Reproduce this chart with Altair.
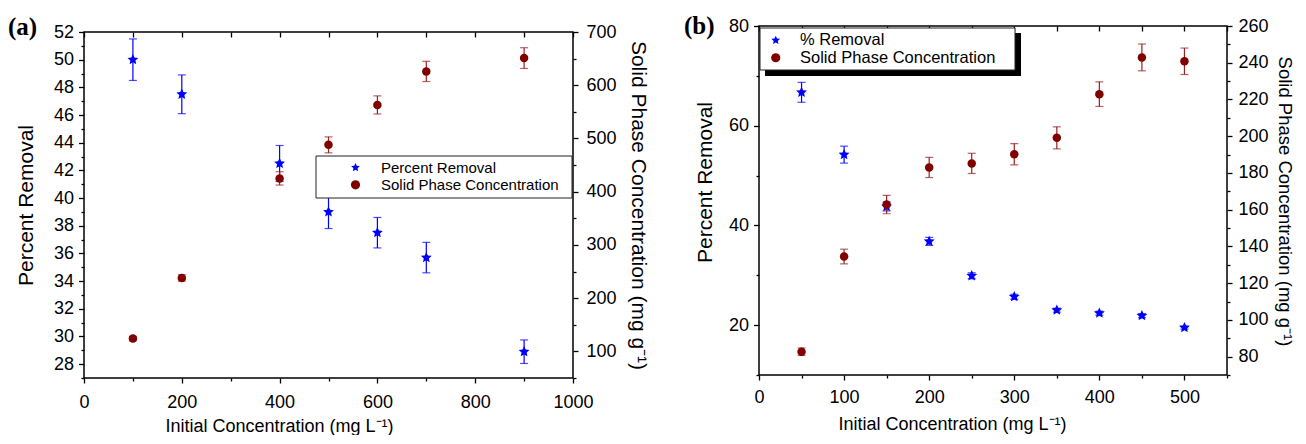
import altair as alt
import pandas as pd

FONT = "Liberation Sans"
BLUE = "#0000ff"
RED = "#800000"
RED_BAR = "#9a2020"
STAR = ("M0,-1 L0.276,-0.380 L0.951,-0.309 L0.447,0.145 L0.588,0.809 "
        "L0,0.47 L-0.588,0.809 L-0.447,0.145 L-0.951,-0.309 L-0.276,-0.380 Z")

# ---------------- Panel (a) data ----------------
a_conc = [100, 200, 400, 500, 600, 700, 900]
a_removal = [50.0, 47.5, 42.5, 39.0, 37.5, 35.7, 28.9]
a_removal_err = [1.5, 1.4, 1.3, 1.2, 1.1, 1.1, 0.85]
a_solid = [124, 238, 425, 488, 563, 626, 651]
a_solid_err = [4, 6, 12.5, 15, 17, 19, 19.5]
a_labels = ["Percent Removal", "Solid Phase Concentration"]

# ---------------- Panel (b) data ----------------
b_conc = [50, 100, 150, 200, 250, 300, 350, 400, 450, 500]
b_removal = [66.7, 54.2, 43.8, 36.8, 29.9, 25.7, 23.0, 22.4, 21.9, 19.5]
b_removal_err = [2.0, 1.7, 0.9, 0.8, 0.6, 0.5, 0.4, 0.4, 0.4, 0.3]
b_solid = [82.7, 134.5, 162.8, 183.0, 185.2, 190.2, 199.1, 222.9, 242.9, 240.8]
b_solid_err = [2.0, 4.0, 5.0, 5.5, 5.5, 5.8, 6.0, 6.7, 7.3, 7.2]
b_labels = ["% Removal", "Solid Phase Concentration"]

X_TITLE = "Initial Concentration (mg L\u207b\u00b9)"
Y2_TITLE = "Solid Phase Concentration (mg g\u207b\u00b9)"


def make_axis(orient, values, test=None, title=None, major=5, minor=3,
              labels=True, offset=None, title_size=21, title_pad=None,
              label_pad=8, title_x=None, title_y=None):
    kw = dict(orient=orient, values=values, domain=False, grid=False,
              labelFlush=False, labelOverlap=False, tickColor="black",
              tickWidth=1.3, labelFont=FONT, labelFontSize=18,
              labelColor="black", labelPadding=label_pad, format="d")
    if test:
        kw["tickSize"] = {"condition": {"test": test, "value": major},
                          "value": minor}
        kw["labelExpr"] = f"({test}) ? datum.label : ''"
    else:
        kw["tickSize"] = major
    if not labels:
        kw["labels"] = False
    if title:
        kw.update(title=title, titleFont=FONT, titleFontSize=title_size,
                  titleFontWeight="normal", titleColor="black")
    else:
        kw["title"] = None
    if offset is not None:
        kw["offset"] = offset
    if title_pad is not None:
        kw["titlePadding"] = title_pad
    if title_x is not None:
        kw["titleX"] = title_x
    if title_y is not None:
        kw["titleY"] = title_y
    return alt.Axis(**kw)


def make_panel(conc, rem, rem_err, sol, sol_err, labels, W, H, top_gap,
               xdom, xvals, xtest, xtopvals, x_lpad, x_tx, x_ty,
               ldom, lvals, ltest, l_ty, l_tpad,
               rdom, rvals, rtest, r_tpad, r_ty, r_lpad, r_fs,
               tag, tag_x, tag_y, box, shadow, leg, right_room):
    df = pd.DataFrame({"x": conc, "r": rem, "re": rem_err,
                       "s": sol, "se": sol_err})
    base = alt.Chart(df).transform_calculate(
        r_lo="datum.r - datum.re", r_hi="datum.r + datum.re",
        s_lo="datum.s - datum.se", s_hi="datum.s + datum.se")

    xs = alt.Scale(domain=xdom, nice=False, zero=False)
    x_bottom = alt.X("x:Q", scale=xs,
                     axis=make_axis("bottom", xvals, xtest, X_TITLE,
                                    title_size=18, label_pad=x_lpad,
                                    title_x=x_tx, title_y=x_ty))
    x_top = alt.X("x:Q", scale=xs,
                  axis=make_axis("top", xtopvals, None, None, major=5,
                                 labels=False, offset=-(5 + top_gap)))

    ls = alt.Scale(domain=ldom, nice=False, zero=False)
    rs = alt.Scale(domain=rdom, nice=False, zero=False)
    lax = make_axis("left", lvals, ltest, "Percent Removal", major=5.5,
                    title_pad=l_tpad, label_pad=5, title_y=l_ty)
    rax = make_axis("right", rvals, rtest, Y2_TITLE, major=5,
                    title_pad=r_tpad, label_pad=r_lpad, title_y=r_ty,
                    title_size=r_fs)

    legend = alt.Legend(orient="none", legendX=leg["x"], legendY=leg["y"],
                        title=None, labelFont=FONT, labelFontSize=leg["fs"],
                        labelColor="black", labelLimit=0, symbolSize=85,
                        symbolStrokeWidth=0, padding=0,
                        rowPadding=leg["rp"], labelOffset=leg["lo"],
                        direction="vertical")
    color = alt.Color("series:N", scale=alt.Scale(domain=labels,
                                                  range=[BLUE, RED]),
                      legend=legend)
    shape = alt.Shape("series:N", scale=alt.Scale(domain=labels,
                                                  range=[STAR, "circle"]),
                      legend=legend)

    left = alt.layer(
        base.mark_rule(color=BLUE, strokeWidth=1.2).encode(
            x=x_bottom, y=alt.Y("r_lo:Q", scale=ls, axis=lax), y2="r_hi:Q"),
        base.mark_tick(color=BLUE, orient="horizontal", size=8,
                       thickness=1.2).encode(
            x=x_bottom, y=alt.Y("r_lo:Q", scale=ls, axis=lax)),
        base.mark_tick(color=BLUE, orient="horizontal", size=8,
                       thickness=1.2).encode(
            x=x_bottom, y=alt.Y("r_hi:Q", scale=ls, axis=lax)),
        base.transform_calculate(series=f"'{labels[0]}'").mark_point(
            filled=True, size=130, opacity=1, strokeWidth=0).encode(
            x=x_bottom, y=alt.Y("r:Q", scale=ls, axis=lax),
            color=color, shape=shape),
    )
    right = alt.layer(
        base.mark_rule(color=RED_BAR, strokeWidth=1.2).encode(
            x=x_top, y=alt.Y("s_lo:Q", scale=rs, axis=rax), y2="s_hi:Q"),
        base.mark_tick(color=RED_BAR, orient="horizontal", size=8,
                       thickness=1.2).encode(
            x=x_top, y=alt.Y("s_lo:Q", scale=rs, axis=rax)),
        base.mark_tick(color=RED_BAR, orient="horizontal", size=8,
                       thickness=1.2).encode(
            x=x_top, y=alt.Y("s_hi:Q", scale=rs, axis=rax)),
        base.transform_calculate(series=f"'{labels[1]}'").mark_point(
            filled=True, size=72, opacity=1, strokeWidth=0).encode(
            x=x_top, y=alt.Y("s:Q", scale=rs, axis=rax),
            color=color, shape=shape),
    )

    one = alt.Chart(pd.DataFrame({"k": [0]}))
    decor = [one.mark_rect(fill="transparent", stroke="black",
                           strokeWidth=1.5).encode(
        x=alt.value(0), x2=alt.value(W),
        y=alt.value(top_gap), y2=alt.value(H))]
    if shadow:
        decor.append(one.mark_rect(color="black").encode(
            x=alt.value(shadow[0]), x2=alt.value(shadow[1]),
            y=alt.value(shadow[2]), y2=alt.value(shadow[3])))
    decor.append(one.mark_rect(fill="white", stroke="#222222",
                               strokeWidth=1).encode(
        x=alt.value(box[0]), x2=alt.value(box[1]),
        y=alt.value(box[2]), y2=alt.value(box[3])))
    decor.append(one.mark_text(text=tag, font="Liberation Serif",
                               fontWeight="bold", fontSize=25, align="left",
                               baseline="middle", color="black").encode(
        x=alt.value(tag_x), y=alt.value(tag_y)))
    # invisible spacer: reserves room above the frame (and to the right)
    decor.append(one.mark_rule(strokeOpacity=0).encode(
        x=alt.value(0), x2=alt.value(W + right_room),
        y=alt.value(-18), y2=alt.value(-18)))

    return alt.layer(left, right, *decor).resolve_scale(
        y="independent").resolve_axis(x="independent", y="independent"
                                      ).properties(
        width=W, height=H, view=alt.ViewBackground(strokeOpacity=0))


# panel (a): frame spans 32..378 on the page, view spans 26..378
panel_a = make_panel(
    a_conc, a_removal, a_removal_err, a_solid, a_solid_err, a_labels,
    489, 352, 6,
    [0, 1000], list(range(0, 1001, 100)), "datum.value % 200 === 0",
    list(range(0, 1001, 100)), 10, 195, 39,
    [27, 52.434], list(range(27, 53)), "datum.value % 2 === 0", 179, 17,
    [50, 711.3], list(range(50, 701, 50)), "datum.value % 100 === 0",
    11, 179, 8, 21,
    "(a)", -76, 1,
    box=(232, 488, 130, 172), shadow=None,
    leg={"x": 264, "y": 134, "fs": 15, "rp": 1.3, "lo": 18}, right_room=0)

panel_b = make_panel(
    b_conc, b_removal, b_removal_err, b_solid, b_solid_err, b_labels,
    468, 349, 0,
    [0, 550], list(range(0, 551, 50)), "datum.value % 100 === 0",
    list(range(0, 551, 50)), 8, 193, 40,
    [10, 80], list(range(10, 81, 10)), "datum.value % 20 === 0", 156, 13,
    [70, 260], list(range(70, 261, 10)), "datum.value % 20 === 0",
    6, 175, 6, 18.5,
    "(b)", -75, 0,
    box=(1, 256, 2, 44), shadow=(6, 262, 7, 50),
    leg={"x": 8.5, "y": 6, "fs": 16.5, "rp": 0.5, "lo": 16}, right_room=68)

chart = alt.hconcat(panel_a, panel_b, spacing=35).resolve_scale(
    color="independent", shape="independent"
).properties(padding=0)

chart.save("out.html", embed_options={"renderer": "svg", "actions": False})
